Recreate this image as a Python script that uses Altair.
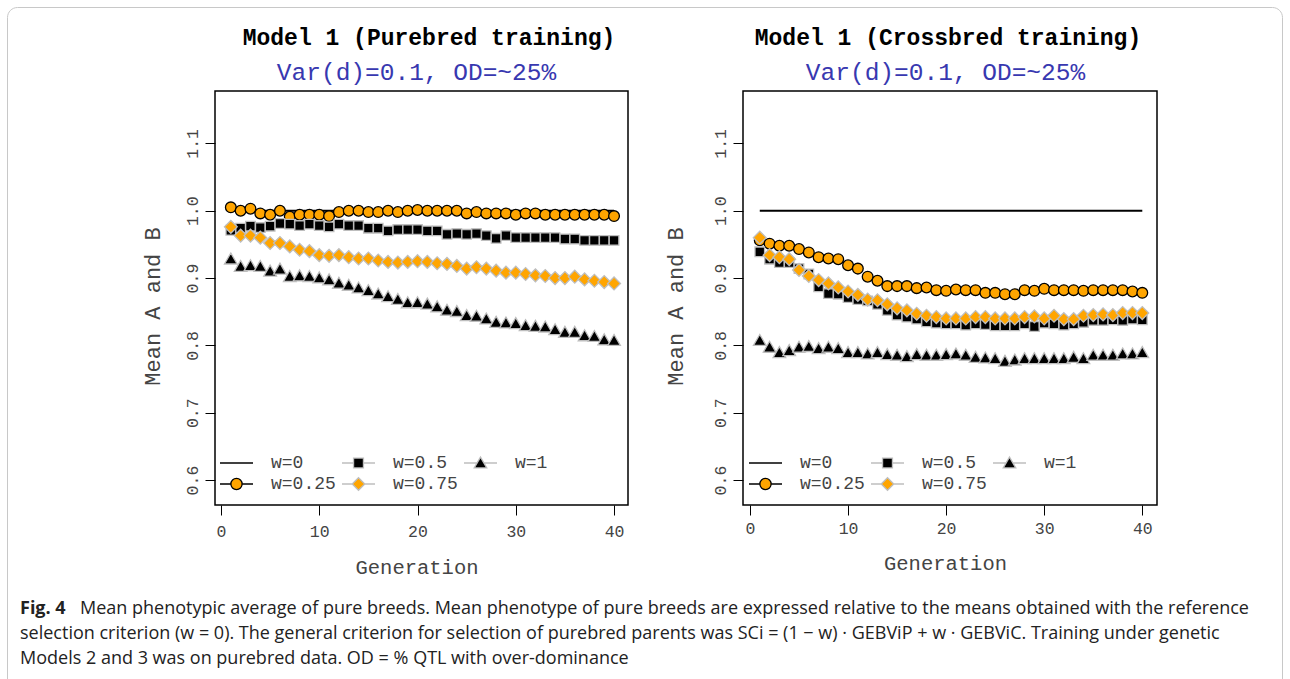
import altair as alt
import pandas as pd

MONO = "Liberation Mono"
SANS = "Open Sans"

generations = list(range(1, 41))
series_order = ["w=0", "w=0.25", "w=0.5", "w=0.75", "w=1"]

# ---- Left panel: Model 1 (Purebred training) ----
left_w0 = [1.000, 1.000, 1.000, 1.000, 1.000, 1.000, 1.000, 1.000, 1.000, 1.000,
           1.000, 1.000, 1.000, 1.000, 1.000, 1.000, 1.000, 1.000, 1.000, 1.000,
           1.000, 1.000, 1.000, 1.000, 1.000, 1.000, 1.000, 1.000, 1.000, 1.000,
           1.000, 1.000, 1.000, 1.000, 1.000, 1.000, 1.000, 1.000, 1.000, 1.000]
left_w025 = [1.005, 1.000, 1.003, 0.996, 0.994, 1.000, 0.991, 0.994, 0.994, 0.994,
             0.992, 0.998, 1.000, 1.000, 0.998, 0.998, 1.000, 0.998, 1.000, 1.001,
             1.000, 1.000, 1.000, 1.000, 0.996, 0.998, 0.996, 0.996, 0.996, 0.994,
             0.996, 0.996, 0.994, 0.994, 0.994, 0.994, 0.994, 0.994, 0.994, 0.992]
left_w05 = [0.971, 0.974, 0.977, 0.975, 0.977, 0.981, 0.980, 0.978, 0.980, 0.978,
            0.976, 0.980, 0.978, 0.978, 0.974, 0.974, 0.970, 0.972, 0.972, 0.972,
            0.970, 0.970, 0.965, 0.966, 0.965, 0.966, 0.963, 0.959, 0.963, 0.960,
            0.960, 0.960, 0.960, 0.960, 0.958, 0.958, 0.956, 0.956, 0.956, 0.956]
left_w075 = [0.976, 0.963, 0.963, 0.960, 0.952, 0.952, 0.947, 0.942, 0.940, 0.934,
             0.933, 0.934, 0.931, 0.929, 0.929, 0.926, 0.924, 0.923, 0.924, 0.925,
             0.924, 0.922, 0.921, 0.918, 0.914, 0.916, 0.914, 0.911, 0.908, 0.908,
             0.906, 0.904, 0.903, 0.900, 0.900, 0.902, 0.898, 0.896, 0.894, 0.892]
left_w1 = [0.929, 0.918, 0.919, 0.918, 0.911, 0.914, 0.903, 0.904, 0.903, 0.901,
           0.898, 0.893, 0.890, 0.886, 0.882, 0.877, 0.873, 0.869, 0.864, 0.864,
           0.862, 0.858, 0.853, 0.851, 0.845, 0.844, 0.840, 0.835, 0.834, 0.833,
           0.830, 0.829, 0.828, 0.824, 0.820, 0.820, 0.815, 0.814, 0.809, 0.808]

# ---- Right panel: Model 1 (Crossbred training) ----
right_w0 = [1.000, 1.000, 1.000, 1.000, 1.000, 1.000, 1.000, 1.000, 1.000, 1.000,
            1.000, 1.000, 1.000, 1.000, 1.000, 1.000, 1.000, 1.000, 1.000, 1.000,
            1.000, 1.000, 1.000, 1.000, 1.000, 1.000, 1.000, 1.000, 1.000, 1.000,
            1.000, 1.000, 1.000, 1.000, 1.000, 1.000, 1.000, 1.000, 1.000, 1.000]
right_w025 = [0.956, 0.951, 0.948, 0.948, 0.943, 0.938, 0.931, 0.929, 0.928, 0.919,
              0.914, 0.902, 0.896, 0.888, 0.888, 0.888, 0.885, 0.886, 0.882, 0.881,
              0.883, 0.882, 0.882, 0.878, 0.878, 0.876, 0.876, 0.882, 0.881, 0.884,
              0.882, 0.882, 0.882, 0.881, 0.882, 0.882, 0.882, 0.882, 0.880, 0.878]
right_w05 = [0.939, 0.928, 0.923, 0.923, 0.914, 0.906, 0.887, 0.877, 0.876, 0.871,
             0.868, 0.866, 0.861, 0.852, 0.845, 0.842, 0.839, 0.835, 0.833, 0.832,
             0.832, 0.830, 0.832, 0.831, 0.829, 0.829, 0.829, 0.832, 0.828, 0.833,
             0.832, 0.830, 0.832, 0.834, 0.837, 0.837, 0.838, 0.837, 0.839, 0.838]
right_w075 = [0.960, 0.934, 0.931, 0.928, 0.912, 0.903, 0.897, 0.892, 0.886, 0.880,
              0.875, 0.868, 0.867, 0.861, 0.855, 0.852, 0.847, 0.844, 0.842, 0.840,
              0.840, 0.840, 0.842, 0.842, 0.840, 0.840, 0.840, 0.842, 0.843, 0.840,
              0.844, 0.839, 0.839, 0.844, 0.845, 0.846, 0.845, 0.848, 0.848, 0.848]
right_w1 = [0.808, 0.798, 0.790, 0.793, 0.798, 0.799, 0.796, 0.798, 0.796, 0.790,
            0.790, 0.788, 0.790, 0.787, 0.786, 0.784, 0.787, 0.786, 0.786, 0.787,
            0.788, 0.786, 0.783, 0.782, 0.781, 0.777, 0.779, 0.781, 0.781, 0.781,
            0.781, 0.781, 0.783, 0.781, 0.786, 0.786, 0.786, 0.788, 0.788, 0.790]

x_ticks = [0, 10, 20, 30, 40]
y_ticks = [0.6, 0.7, 0.8, 0.9, 1.0, 1.1]

caption_bold = "Fig. 4"
caption_lines = [
    "Mean phenotypic average of pure breeds. Mean phenotype of pure breeds are expressed relative to the means obtained with the reference",
    "selection criterion (w = 0). The general criterion for selection of purebred parents was SCi = (1 \u2212 w) \u00b7 GEBViP + w \u00b7 GEBViC. Training under genetic",
    "Models 2 and 3 was on purebred data. OD = % QTL with over-dominance",
]

ORANGE = "#FFA500"
GREY = "#BEBEBE"
AXIS_TEXT = "#444"

legend_paths = {
    "w=0": "M-1,0L1,0",
    "w=0.25": "M-1,0L-0.34,0M0.34,0L1,0M0.34,0A0.34,0.34,0,1,1,-0.34,0A0.34,0.34,0,1,1,0.34,0Z",
    "w=0.5": "M-1,0L-0.3,0M0.3,0L1,0M-0.3,-0.3L0.3,-0.3L0.3,0.3L-0.3,0.3Z",
    "w=0.75": "M-1,0L-0.38,0M0.38,0L1,0M-0.38,0L0,-0.38L0.38,0L0,0.38Z",
    "w=1": "M-1,0L-0.22,0M0.22,0L1,0M0,-0.36L0.38,0.3L-0.38,0.3Z",
}
legend_fill = {"w=0": "transparent", "w=0.25": ORANGE, "w=0.5": "black", "w=0.75": ORANGE, "w=1": "black"}
legend_stroke = {"w=0": "black", "w=0.25": "black", "w=0.5": GREY, "w=0.75": GREY, "w=1": GREY}

one = pd.DataFrame({"a": [0]})


def series_df(vals):
    return pd.DataFrame({"gen": generations, "val": vals})


def panel(vals, x_dom, x_rng, y_axis_offset, ytitle_x, xtitle_x, xtitle_y, xlabel_pad, legend_x):
    w0, w025, w05, w075, w1 = vals
    xs = alt.Scale(domain=x_dom, range=x_rng, nice=False, zero=False)
    ys = alt.Scale(domain=[0.5629, 1.1778], range=[505, 91], nice=False, zero=False)
    xa = alt.Axis(orient="bottom", offset=-174, values=x_ticks, tickSize=10, tickColor="black",
                  tickWidth=1, domain=False, grid=False, labelFont=MONO, labelFontSize=16.5,
                  labelColor=AXIS_TEXT, labelPadding=xlabel_pad, title="Generation", titleFont=MONO,
                  titleFontSize=20.5, titleFontWeight="normal", titleColor=AXIS_TEXT,
                  titleX=xtitle_x, titleY=xtitle_y, titleAlign="center", titleBaseline="middle")
    ya = alt.Axis(orient="left", offset=y_axis_offset, values=y_ticks, format=".1f", tickSize=10,
                  tickColor="black", tickWidth=1, domain=False, grid=False, labelFont=MONO,
                  labelFontSize=16.5, labelColor=AXIS_TEXT, labelAngle=270, labelAlign="center",
                  labelBaseline="bottom", labelPadding=5, title="Mean A and B", titleFont=MONO,
                  titleFontSize=22, titleFontWeight="normal", titleColor=AXIS_TEXT, titleAngle=270,
                  titleX=ytitle_x, titleY=306, titleAlign="center", titleBaseline="middle")
    X = alt.X("gen:Q", scale=xs, axis=xa)
    Y = alt.Y("val:Q", scale=ys, axis=ya)

    box = alt.Chart(one).mark_rect(fill="transparent", stroke="black", strokeWidth=1.5).encode(
        x=alt.value(x_rng[0]), x2=alt.value(x_rng[1]), y=alt.value(91), y2=alt.value(505))
    line0 = alt.Chart(series_df(w0)).mark_line(color="black", strokeWidth=2).encode(x=X, y=Y)
    p025 = alt.Chart(series_df(w025)).mark_point(shape="circle", size=115, filled=True, fill=ORANGE,
                                                  stroke="black", strokeWidth=1.3, opacity=1).encode(x=X, y=Y)
    p05 = alt.Chart(series_df(w05)).mark_point(shape="square", size=92, filled=True, fill="black",
                                                stroke=GREY, strokeWidth=1.3, opacity=1).encode(x=X, y=Y)
    p075 = alt.Chart(series_df(w075)).mark_point(shape="diamond", size=165, filled=True, fill=ORANGE,
                                                  stroke=GREY, strokeWidth=1.3, opacity=1).encode(x=X, y=Y)
    p1 = alt.Chart(series_df(w1)).mark_point(shape="triangle-up", size=160, filled=True, fill="black",
                                              stroke=GREY, strokeWidth=1.3, opacity=1).encode(x=X, y=Y)

    leg = alt.Legend(orient="none", legendX=legend_x, legendY=454, columns=3, columnPadding=5,
                     rowPadding=3, symbolSize=1089, symbolStrokeWidth=1.3, labelFont=MONO,
                     labelFontSize=18, labelColor=AXIS_TEXT, labelOffset=17, title=None,
                     clipHeight=18, symbolOpacity=1, padding=0)
    dummy = pd.DataFrame({"w": series_order, "gen": [-100] * 5, "val": [1.0] * 5})
    legend_layer = alt.Chart(dummy).mark_point(filled=True, opacity=1, clip=True).encode(
        x=X, y=Y,
        shape=alt.Shape("w:N", scale=alt.Scale(domain=series_order,
                                               range=[legend_paths[s] for s in series_order]), legend=leg),
        fill=alt.Fill("w:N", scale=alt.Scale(domain=series_order,
                                             range=[legend_fill[s] for s in series_order]), legend=leg),
        stroke=alt.Stroke("w:N", scale=alt.Scale(domain=series_order,
                                                 range=[legend_stroke[s] for s in series_order]), legend=leg),
    )
    return alt.layer(box, line0, p025, p05, p075, p1, legend_layer)


left = panel((left_w0, left_w025, left_w05, left_w075, left_w1),
             [-0.61, 41.42], [215, 628], -215, -63, 416.5, 62, 8, 219)
right = panel((right_w0, right_w025, right_w05, right_w075, right_w1),
              [-0.71, 41.5], [743, 1157], -743, -68, 945, 58, 5, 748)

frame = alt.Chart(one).mark_rect(fill="transparent", stroke="#c8c8c8", strokeWidth=1, cornerRadius=10).encode(
    x=alt.value(7.5), x2=alt.value(1282.5), y=alt.value(7.5), y2=alt.value(700))


def text(s, x, y, size, font=MONO, weight="normal", color="black", align="center"):
    return alt.Chart(one).mark_text(text=s, font=font, fontSize=size, fontWeight=weight, color=color,
                                    align=align, baseline="alphabetic").encode(x=alt.value(x), y=alt.value(y))


titles = [
    text("Model 1 (Purebred training)", 429, 44.5, 23, weight="bold"),
    text("Var(d)=0.1, OD=~25%", 416.5, 79.5, 24.5, color="#3838b0"),
    text("Model 1 (Crossbred training)", 948, 44.5, 23, weight="bold"),
    text("Var(d)=0.1, OD=~25%", 945.5, 79.5, 24.5, color="#3838b0"),
]
caption = [
    text(caption_bold, 20, 614, 18, font=SANS, weight="bold", color="#222", align="left"),
    text(caption_lines[0], 80, 614, 18, font=SANS, color="#222", align="left"),
    text(caption_lines[1], 20, 639, 18, font=SANS, color="#222", align="left"),
    text(caption_lines[2], 20, 664, 18, font=SANS, color="#222", align="left"),
]

chart = alt.layer(frame, *titles, *caption, left, right).resolve_scale(
    x="independent", y="independent", shape="independent", fill="independent", stroke="independent"
).resolve_legend(shape="independent", fill="independent", stroke="independent").properties(
    width=1290, height=679, autosize=alt.AutoSizeParams(type="none"), padding=0, background="white"
).configure_view(stroke="transparent")

chart.save("out.html", embed_options={"renderer": "svg", "actions": False})
